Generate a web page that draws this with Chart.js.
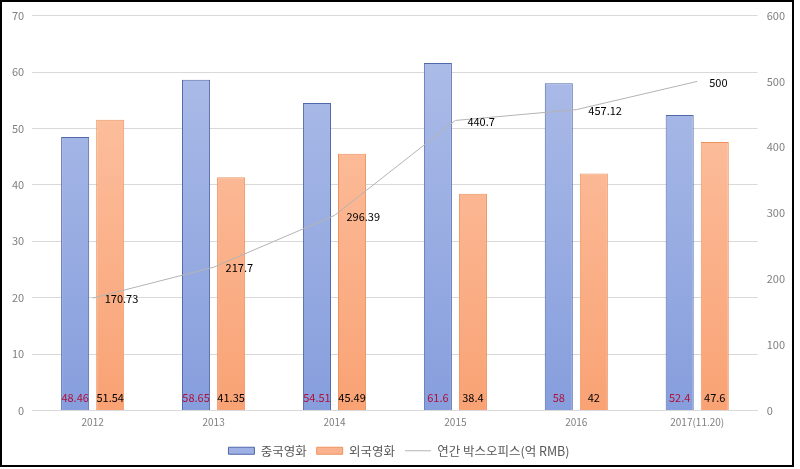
<!DOCTYPE html>
<html>
<head>
<meta charset="utf-8">
<script src="https://cdn.jsdelivr.net/npm/chart.js@4"></script>
<style>
  html, body { margin: 0; padding: 0; background: #fff; }
  #wrap { width: 800px; height: 469px; position: relative; }
</style>
</head>
<body>
<div id="wrap"><canvas id="boxChart"></canvas></div>
<script>
const years = ['2012', '2013', '2014', '2015', '2016', '2017(11.20)'];
const chinaFilm = [48.46, 58.65, 54.51, 61.6, 58, 52.4];    // 중국영화
const foreignFilm = [51.54, 41.35, 45.49, 38.4, 42, 47.6];  // 외국영화
const boxOffice = [170.73, 217.7, 296.39, 440.7, 457.12, 500];
const leftTicks = { min: 0, max: 70, step: 10 };
const rightTicks = { min: 0, max: 600, step: 100 };

const fontFamily = '"Noto Sans CJK KR", "Noto Sans", sans-serif';

function gradient(ctx, top, bottom, fallback) {
    const area = ctx.chart.chartArea;
    if (!area) return fallback;
    const g = ctx.chart.ctx.createLinearGradient(0, area.top, 0, area.bottom);
    g.addColorStop(0, top);
    g.addColorStop(1, bottom);
    return g;
}

// frame + white background
const framePlugin = {
    id: 'frame',
    beforeDraw(chart) {
        const c = chart.ctx;
        c.save();
        c.fillStyle = '#fff';
        c.fillRect(0, 0, chart.width, chart.height);
        c.restore();
    },
    afterDraw(chart) {
        const c = chart.ctx;
        c.save();
        c.strokeStyle = '#000';
        c.lineWidth = 2;
        c.strokeRect(1, 1, 792, 465);
        c.restore();
    }
};

// value labels
const labelPlugin = {
    id: 'valueLabels',
    afterDatasetsDraw(chart) {
        const c = chart.ctx;
        const base = chart.scales.y.bottom;
        c.save();
        c.font = '11px ' + fontFamily;
        chart.data.datasets.forEach((ds, i) => {
            const meta = chart.getDatasetMeta(i);
            meta.data.forEach((el, j) => {
                const v = ds.data[j];
                if (ds.type === 'line') {
                    c.fillStyle = '#000';
                    c.textAlign = 'left';
                    c.textBaseline = 'middle';
                    c.fillText(String(v), el.x + 12, el.y + 1);
                } else {
                    c.fillStyle = i === 0 ? '#b0103a' : '#000';
                    c.textAlign = 'center';
                    c.textBaseline = 'middle';
                    c.fillText(String(v), el.x, base - 13);
                }
            });
        });
        c.restore();
    }
};

const ctx = document.getElementById('boxChart').getContext('2d');
const boxChart = new Chart(ctx, {
    data: {
        labels: years,
        datasets: [
            {
                type: 'bar',
                label: '중국영화',
                data: chinaFilm,
                yAxisID: 'y',
                backgroundColor: c => gradient(c, '#b0bfe9', '#869edd', '#9eb0e4'),
                borderColor: '#4f68aa',
                borderWidth: 1,
                borderSkipped: 'bottom',
                categoryPercentage: 0.58,
                barPercentage: 0.8,
                order: 2
            },
            {
                type: 'bar',
                label: '외국영화',
                data: foreignFilm,
                yAxisID: 'y',
                backgroundColor: c => gradient(c, '#fdc7aa', '#f9a274', '#fbb28e'),
                borderColor: '#ec9360',
                borderWidth: 1,
                borderSkipped: 'bottom',
                categoryPercentage: 0.58,
                barPercentage: 0.8,
                order: 3
            },
            {
                type: 'line',
                label: '연간 박스오피스(억 RMB)',
                data: boxOffice,
                yAxisID: 'y1',
                borderColor: '#b4b4b4',
                backgroundColor: '#b4b4b4',
                borderWidth: 1,
                pointRadius: 0,
                tension: 0,
                fill: false,
                order: 1
            }
        ]
    },
    options: {
        responsive: true,
        maintainAspectRatio: false,
        animation: false,
        layout: { padding: { top: 9, left: 4, right: 6, bottom: 2 } },
        plugins: {
            tooltip: { enabled: false },
            legend: {
                position: 'bottom',
                labels: {
                    font: { size: 12.5, family: fontFamily },
                    color: '#595959',
                    usePointStyle: true,
                    pointStyleWidth: 26,
                    boxHeight: 7,
                    padding: 10,
                    sort: (a, b) => a.datasetIndex - b.datasetIndex,
                    generateLabels(chart) {
                        const items = Chart.defaults.plugins.legend.labels.generateLabels(chart);
                        const fills = ['#9eb0e4', '#fbb28e', '#b4b4b4'];
                        const strokes = ['#4f68aa', '#ec9360', '#b4b4b4'];
                        const styles = ['rect', 'rect', 'line'];
                        items.forEach(it => {
                            const k = it.datasetIndex;
                            it.fillStyle = fills[k];
                            it.strokeStyle = strokes[k];
                            it.pointStyle = styles[k];
                            it.lineWidth = 1;
                        });
                        return items;
                    }
                }
            }
        },
        scales: {
            x: {
                grid: { display: false, drawTicks: false },
                border: { color: '#d9d9d9' },
                ticks: { color: '#808080', font: { size: 10, family: fontFamily }, padding: 6 }
            },
            y: {
                position: 'left',
                min: leftTicks.min,
                max: leftTicks.max,
                ticks: { stepSize: leftTicks.step, color: '#808080', font: { size: 11, family: fontFamily }, padding: 8 },
                grid: { color: '#d9d9d9', drawTicks: false },
                border: { display: false }
            },
            y1: {
                position: 'right',
                min: rightTicks.min,
                max: rightTicks.max,
                ticks: { stepSize: rightTicks.step, color: '#808080', font: { size: 11, family: fontFamily }, padding: 9 },
                grid: { display: false, drawTicks: false },
                border: { display: false }
            }
        }
    },
    plugins: [framePlugin, labelPlugin]
});
</script>
</body>
</html>
